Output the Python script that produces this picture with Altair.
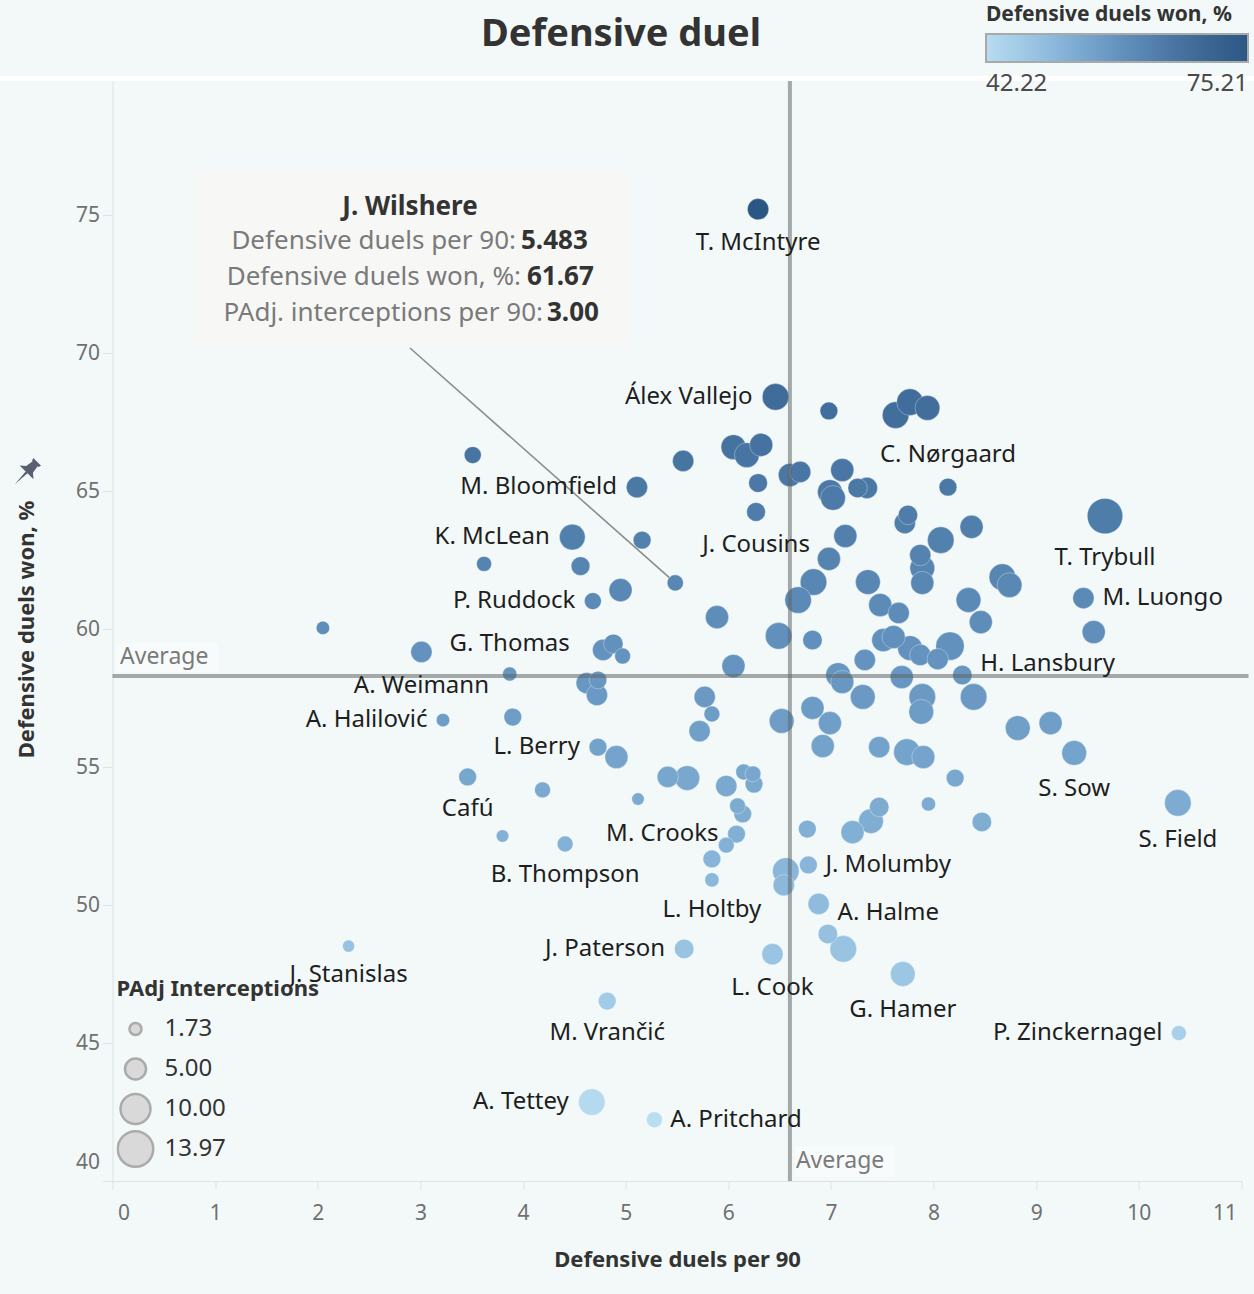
import altair as alt
import pandas as pd

# ---------------- data ----------------
PLAYERS = [
    "T. McIntyre", "Álex Vallejo", "", "", "", "", "", "", "", "",
    "", "M. Bloomfield", "", "J. Cousins", "", "", "", "", "", "",
    "", "C. Nørgaard", "", "", "", "", "", "T. Trybull", "", "",
    "", "", "", "", "", "", "", "", "", "",
    "", "", "", "", "", "", "", "", "", "H. Lansbury",
    "", "", "", "", "", "", "", "", "S. Sow", "",
    "", "", "", "", "", "", "", "", "", "",
    "", "", "", "", "M. Luongo", "", "S. Field", "", "", "",
    "", "", "", "J. Molumby", "", "", "A. Halme", "", "", "G. Hamer",
    "L. Cook", "J. Paterson", "L. Berry", "", "", "", "", "", "", "",
    "", "", "", "M. Crooks", "", "", "L. Holtby", "B. Thompson", "", "",
    "Cafú", "M. Vrančić", "A. Tettey", "A. Pritchard", "J. Stanislas", "P. Zinckernagel", "J. Wilshere", "K. McLean", "", "P. Ruddock",
    "", "", "", "", "A. Weimann", "G. Thomas", "A. Halilović", "", "", "",
    "", "", "", "",
]
DUELS_P90 = [
    6.29, 6.46, 6.98, 7.63, 7.77, 7.94, 6.05, 6.18, 6.32, 5.56,
    3.51, 5.11, 6.29, 6.27, 6.60, 6.70, 7.11, 6.99, 7.02, 7.26,
    7.35, 8.14, 7.75, 7.72, 7.14, 8.07, 8.37, 9.67, 6.98, 6.83,
    6.68, 7.36, 7.87, 7.89, 7.89, 8.34, 8.46, 8.67, 8.74, 7.48,
    7.66, 7.51, 7.61, 7.77, 7.87, 8.04, 8.16, 7.33, 7.69, 8.28,
    7.07, 7.11, 7.31, 7.89, 7.88, 8.39, 8.82, 9.14, 9.37, 7.47,
    7.74, 7.90, 8.21, 5.89, 6.05, 6.49, 6.82, 5.77, 5.84, 5.72,
    6.52, 6.82, 6.99, 6.92, 9.46, 9.56, 10.38, 8.47, 7.95, 7.47,
    7.39, 7.21, 6.77, 6.78, 6.56, 6.54, 6.88, 6.97, 7.12, 7.70,
    6.43, 5.57, 4.73, 4.91, 5.41, 5.60, 5.12, 5.98, 6.15, 6.24,
    6.25, 6.09, 6.14, 6.08, 5.98, 5.84, 5.84, 4.41, 3.80, 4.19,
    3.46, 4.82, 4.67, 5.28, 2.30, 10.39, 5.483, 4.48, 4.56, 4.68,
    4.95, 5.16, 3.62, 2.05, 3.01, 3.87, 3.22, 3.90, 4.78, 4.88,
    4.97, 4.62, 4.73, 4.72,
]
DUELS_WON = [
    75.21, 68.41, 67.90, 67.75, 68.22, 68.01, 66.59, 66.30, 66.67, 66.09,
    66.30, 65.14, 65.29, 64.24, 65.58, 65.69, 65.76, 64.96, 64.75, 65.11,
    65.11, 65.14, 64.13, 63.84, 63.37, 63.22, 63.70, 64.09, 62.54, 61.70,
    61.05, 61.70, 62.68, 62.21, 61.67, 61.05, 60.25, 61.88, 61.59, 60.87,
    60.58, 59.60, 59.71, 59.31, 59.06, 58.91, 59.38, 58.88, 58.26, 58.33,
    58.33, 58.08, 57.54, 57.54, 57.00, 57.54, 56.41, 56.59, 55.51, 55.72,
    55.54, 55.36, 54.60, 60.43, 58.66, 59.75, 59.60, 57.54, 56.92, 56.30,
    56.67, 57.14, 56.59, 55.76, 61.12, 59.89, 53.70, 53.01, 53.66, 53.55,
    53.04, 52.64, 52.75, 51.45, 51.23, 50.72, 50.04, 48.95, 48.41, 47.50,
    48.22, 48.41, 55.72, 55.36, 54.64, 54.60, 53.84, 54.31, 54.82, 54.75,
    54.38, 53.59, 53.30, 52.57, 52.17, 51.67, 50.91, 52.21, 52.50, 54.17,
    54.64, 46.52, 42.86, 42.22, 48.51, 45.36, 61.67, 63.33, 62.28, 61.01,
    61.41, 63.22, 62.36, 60.04, 59.17, 58.37, 56.70, 56.81, 59.24, 59.46,
    59.02, 58.04, 58.15, 57.61,
]
INTERCEPTIONS = [
    5.1, 7.9, 3.6, 7.9, 7.9, 6.9, 6.9, 6.9, 6.0, 5.1,
    3.3, 5.1, 4.0, 4.0, 6.0, 5.1, 6.0, 6.9, 6.9, 4.3,
    5.1, 3.6, 4.3, 5.1, 6.0, 7.9, 6.0, 13.97, 6.0, 7.9,
    7.9, 6.9, 5.1, 6.9, 6.0, 6.9, 6.0, 7.9, 6.9, 6.0,
    5.1, 6.0, 6.0, 6.9, 5.1, 5.1, 9.0, 5.1, 6.0, 4.3,
    6.9, 6.0, 6.9, 7.9, 6.9, 7.9, 6.9, 6.0, 6.9, 5.1,
    7.9, 6.0, 3.6, 6.0, 6.0, 7.9, 4.3, 5.1, 2.9, 5.1,
    6.9, 6.0, 6.0, 6.0, 5.1, 6.0, 7.9, 4.3, 2.35, 4.3,
    6.9, 6.0, 3.6, 3.6, 7.9, 5.1, 5.1, 4.3, 7.9, 6.9,
    5.1, 4.3, 3.6, 6.0, 5.1, 6.9, 1.83, 5.1, 2.9, 2.9,
    3.6, 2.9, 3.6, 3.6, 2.9, 3.6, 2.35, 2.9, 1.83, 2.9,
    3.6, 3.6, 7.9, 2.9, 1.73, 2.6, 3.00, 7.4, 4.0, 3.3,
    6.0, 3.6, 2.6, 2.1, 5.1, 2.35, 2.1, 3.6, 5.1, 4.3,
    2.9, 5.1, 3.6, 5.1,
]

AVG_DUELS_P90 = 6.60
AVG_DUELS_WON = 58.30

X_TICKS = list(range(0, 12))
Y_TICKS = [40, 45, 50, 55, 60, 65, 70, 75]
COLOR_LEGEND_VALUES = [42.22, 75.21]
SIZE_LEGEND_VALUES = [1.73, 5.00, 10.00, 13.97]
TOOLTIP_PLAYER = "J. Wilshere"

# label placement around each labelled point (style, not data)
LABEL_BELOW = ["T. McIntyre", "J. Cousins", "T. Trybull", "S. Sow", "Cafú", "S. Field",
               "B. Thompson", "A. Weimann", "L. Holtby", "J. Stanislas", "L. Cook",
               "G. Hamer", "M. Vrančić"]
LABEL_ABOVE = ["C. Nørgaard", "G. Thomas"]
LABEL_LEFT = ["Álex Vallejo", "M. Bloomfield", "K. McLean", "P. Ruddock", "A. Halilović",
              "L. Berry", "M. Crooks", "J. Paterson", "P. Zinckernagel", "A. Tettey"]
LABEL_RIGHT = ["M. Luongo", "J. Molumby", "A. Pritchard"]
LABEL_RIGHT_UP = ["H. Lansbury"]
LABEL_RIGHT_DOWN = ["A. Halme"]

# ---------------- chart ----------------
FONT = "Noto Sans"
BG = "#F2F9F8"
W, H = 1129, 1104
LEFT, TOP = 112.5, 77
X_DOMAIN = [0, 11]
Y_DOMAIN = [40, 80]
SIZE_DOMAIN = [1.73, 13.97]
SIZE_RANGE = [145, 1257]
PX = W / (X_DOMAIN[1] - X_DOMAIN[0])   # pixels per x unit
PY = H / (Y_DOMAIN[1] - Y_DOMAIN[0])   # pixels per y unit
SLOPE = (SIZE_RANGE[1] - SIZE_RANGE[0]) / (SIZE_DOMAIN[1] - SIZE_DOMAIN[0])
R_EXPR = f"sqrt(({SIZE_RANGE[0]} + (datum.interc - {SIZE_DOMAIN[0]}) * {SLOPE}) / PI)"

df = pd.DataFrame({"player": PLAYERS, "p90": DUELS_P90, "won": DUELS_WON,
                   "interc": INTERCEPTIONS})
avg_df = pd.DataFrame({"avg_x": [AVG_DUELS_P90], "avg_y": [AVG_DUELS_WON]})
one = pd.DataFrame({"k": [0]})

x_scale = alt.Scale(domain=X_DOMAIN, nice=False, zero=False)
y_scale = alt.Scale(domain=Y_DOMAIN, nice=False, zero=False)

c_min, c_max = COLOR_LEGEND_VALUES
c_dom = [c_min + (c_max - c_min) * i / 4 for i in range(5)]
color_scale = alt.Scale(domain=c_dom,
                        range=["#b9ddf1", "#8dbadc", "#6594c0", "#44719f", "#2a5783"])
size_scale = alt.Scale(domain=SIZE_DOMAIN, range=SIZE_RANGE, zero=False)

x_axis = alt.Axis(values=X_TICKS, format="d", grid=False, labelFlush=True,
                  labelFlushOffset=-5, tickSize=8,
                  tickColor="#dde3e2", domainColor="#dde3e2", labelColor="#707070",
                  labelFontSize=21, labelFont=FONT, labelPadding=13,
                  titleFont=FONT, titleFontSize=22, titleFontWeight="bold",
                  titleColor="#333333", titlePadding=26)
y_axis = alt.Axis(values=Y_TICKS, format="d", grid=False, labelFlush=True,
                  labelFlushOffset=-9, tickSize=10,
                  tickColor="#dde3e2", domainColor="#dde3e2", labelColor="#707070",
                  labelFontSize=21, labelFont=FONT, labelPadding=3,
                  titleFont=FONT, titleFontSize=22, titleFontWeight="bold",
                  titleColor="#333333", titlePadding=37)

X = alt.X("p90:Q", scale=x_scale, axis=x_axis, title="Defensive duels per 90")
Y = alt.Y("won:Q", scale=y_scale, axis=y_axis, title="Defensive duels won, %")
Xp = alt.X("p90:Q", scale=x_scale)
Yp = alt.Y("won:Q", scale=y_scale)

base = alt.Chart(df)

# annotation box for the highlighted player
tip_box = alt.Chart(one).mark_rect(fill="#F7F7F6").encode(
    x=alt.value(195 - LEFT), x2=alt.value(628 - LEFT),
    y=alt.value(172 - TOP), y2=alt.value(347 - TOP))

wil = base.transform_filter(alt.datum.player == TOOLTIP_PLAYER)
leader = wil.mark_rule(color="#8c8c8c", strokeWidth=1.6).encode(
    x=Xp, y=Yp, x2=alt.value(410 - LEFT), y2=alt.value(348 - TOP))

points = base.mark_circle(opacity=1, stroke="#ffffff", strokeWidth=0.7,
                          strokeOpacity=0.45).encode(
    x=X, y=Y,
    color=alt.Color("won:Q", scale=color_scale, legend=alt.Legend(
        orient="none", legendX=986 - LEFT, legendY=4 - TOP, direction="horizontal",
        gradientLength=262, gradientThickness=28, values=COLOR_LEGEND_VALUES,
        format=".2f", title="Defensive duels won, %", titleFont=FONT,
        titleFontSize=21, titleFontWeight="bold", titleColor="#333333",
        titlePadding=9, titleLimit=400, labelFont=FONT, labelFontSize=24,
        labelColor="#4a4a4a", labelOffset=10, gradientStrokeColor="#a9a9a9",
        gradientStrokeWidth=2, padding=0)),
    size=alt.Size("interc:Q", scale=size_scale, legend=alt.Legend(
        orient="none", legendX=4, legendY=979 - TOP, values=SIZE_LEGEND_VALUES,
        format=".2f", title="PAdj Interceptions", titleFont=FONT,
        titleFontSize=22, titleFontWeight="bold", titleColor="#333333",
        titlePadding=8, titleLimit=400, labelFont=FONT, labelFontSize=24,
        labelColor="#333333", labelOffset=10, symbolType="circle",
        symbolFillColor="#d9d9d9", symbolStrokeColor="#ababab",
        symbolStrokeWidth=2.5, clipHeight=40, rowPadding=0, padding=0)),
    order=alt.Order("interc:Q", sort="descending"),
)

# average reference lines + their captions
avg_base = alt.Chart(avg_df)
v_line = avg_base.mark_rule(color="#626666", opacity=0.55, strokeWidth=4).encode(
    x=alt.X("avg_x:Q", scale=x_scale))
h_line = avg_base.mark_rule(color="#626666", opacity=0.55, strokeWidth=4).encode(
    y=alt.Y("avg_y:Q", scale=y_scale), x=alt.value(0), x2=alt.value(W + 7))
h_box = alt.Chart(one).mark_rect(fill="#F8FBFB").encode(
    x=alt.value(116 - LEFT), x2=alt.value(218 - LEFT),
    y=alt.value(643 - TOP), y2=alt.value(672 - TOP))
h_txt = avg_base.mark_text(text="Average", align="left", baseline="middle",
                           font=FONT, fontSize=23, color="#7a7a7a", dy=-19).encode(
    x=alt.value(120 - LEFT), y=alt.Y("avg_y:Q", scale=y_scale))
v_box = avg_base.transform_calculate(bx1="datum.avg_x + 0.05",
                                     bx2="datum.avg_x + 1.02").mark_rect(
    fill="#F8FBFB").encode(x=alt.X("bx1:Q", scale=x_scale), x2="bx2:Q",
                           y=alt.value(1146 - TOP), y2=alt.value(1177 - TOP))
v_txt = avg_base.mark_text(text="Average", align="left", baseline="middle",
                           font=FONT, fontSize=23, color="#7a7a7a", dx=6).encode(
    x=alt.X("avg_x:Q", scale=x_scale), y=alt.value(1161 - TOP))


def labels(names, kind, extra_dy=0):
    t = base.transform_filter(
        alt.FieldOneOfPredicate(field="player", oneOf=names)).transform_calculate(
        r=R_EXPR)
    if kind == "below":
        t = t.transform_calculate(lx="datum.p90", ly=f"datum.won - (datum.r + 22) / {PY}")
        align = "center"
    elif kind == "above":
        t = t.transform_calculate(lx="datum.p90", ly=f"datum.won + (datum.r + 22) / {PY}")
        align = "center"
    elif kind == "left":
        t = t.transform_calculate(lx=f"datum.p90 - (datum.r + 8) / {PX}", ly="datum.won")
        align = "right"
    else:
        t = t.transform_calculate(lx=f"datum.p90 + (datum.r + 7) / {PX}", ly="datum.won")
        align = "left"
    return t.mark_text(align=align, baseline="middle", dy=extra_dy, font=FONT,
                       fontSize=24, color="#1e1e1e").encode(
        x=alt.X("lx:Q", scale=x_scale), y=alt.Y("ly:Q", scale=y_scale),
        text="player:N")


lab_layers = [labels(LABEL_BELOW, "below"), labels(LABEL_ABOVE, "above"),
              labels(LABEL_LEFT, "left"), labels(LABEL_RIGHT, "right"),
              labels(LABEL_RIGHT_UP, "right", -11), labels(LABEL_RIGHT_DOWN, "right", 9)]


def fixed_text(txt, x, y, **kw):
    return alt.Chart(one).mark_text(text=txt, font=FONT, baseline="middle", **kw).encode(
        x=alt.value(x - LEFT), y=alt.value(y - TOP))


TIP_FS = 26


def tip_value(expr, x, y):
    return wil.transform_calculate(v=expr).mark_text(
        align="left", baseline="middle", font=FONT, fontSize=TIP_FS, fontWeight="bold",
        color="#333333").encode(x=alt.value(x - LEFT), y=alt.value(y - TOP), text="v:N")


tip_name = wil.mark_text(align="center", baseline="middle", font=FONT, fontSize=TIP_FS,
                         fontWeight="bold", color="#333333").encode(
    x=alt.value(410 - LEFT), y=alt.value(207 - TOP), text="player:N")
tip_l1 = fixed_text("Defensive duels per 90:", 516, 241, align="right", fontSize=TIP_FS, color="#7a7a7a")
tip_l2 = fixed_text("Defensive duels won, %:", 521, 277, align="right", fontSize=TIP_FS, color="#7a7a7a")
tip_l3 = fixed_text("PAdj. interceptions per 90:", 543, 313, align="right", fontSize=TIP_FS, color="#7a7a7a")
tip_v1 = tip_value("format(datum.p90, '.3f')", 521, 241)
tip_v2 = tip_value("format(datum.won, '.2f')", 527, 277)
tip_v3 = tip_value("format(datum.interc, '.2f')", 547, 313)

title = fixed_text("Defensive duel", 621, 35, align="center", fontSize=38,
                   fontWeight="bold", color="#333333")

top_band = alt.Chart(one).mark_rule(color="#ffffff", strokeWidth=5).encode(
    x=alt.value(-LEFT), x2=alt.value(W + 20), y=alt.value(78.5 - TOP))

PIN = ("M-0.35,-1 L0.35,-1 L0.28,-0.82 L0.22,-0.82 L0.3,-0.32 L0.62,-0.05 "
       "L-0.62,-0.05 L-0.3,-0.32 L-0.22,-0.82 L-0.28,-0.82 Z "
       "M-0.08,-0.05 L0.08,-0.05 L0,1 Z")
pin = alt.Chart(one).mark_point(shape=PIN, filled=True, color="#5a6072", size=1000,
                                angle=45, opacity=1).encode(
    x=alt.value(26 - LEFT), y=alt.value(473 - TOP))

chart = alt.layer(
    tip_box, leader, points, v_line, h_line, h_box, h_txt, v_box, v_txt,
    *lab_layers,
    tip_name, tip_l1, tip_l2, tip_l3, tip_v1, tip_v2, tip_v3,
    title, top_band, pin,
).properties(
    width=W, height=H, background=BG,
    padding={"left": LEFT, "top": TOP, "right": 1254 - LEFT - W, "bottom": 1294 - TOP - H},
    autosize=alt.AutoSizeParams(type="none"),
).configure_view(stroke=None)

chart.save("out.html", embed_options={"renderer": "svg", "actions": False})
